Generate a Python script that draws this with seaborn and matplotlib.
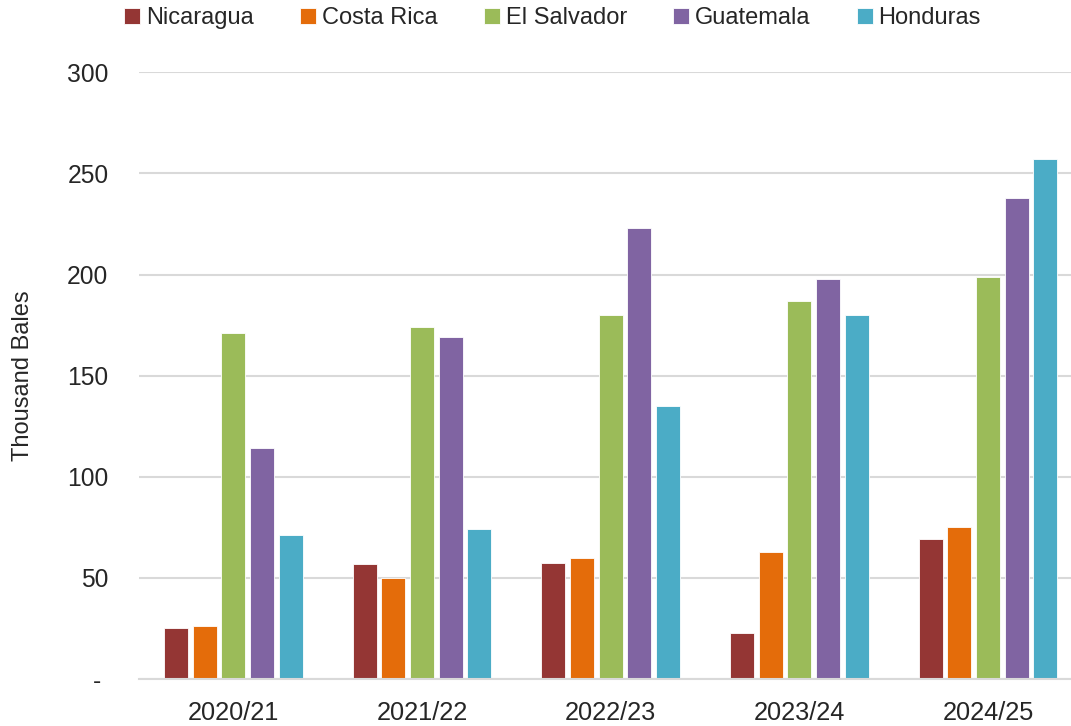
import pandas as pd
import seaborn as sns
from matplotlib import pyplot as plt
from matplotlib.ticker import FuncFormatter

seasons = ["2020/21", "2021/22", "2022/23", "2023/24", "2024/25"]
countries = ["Nicaragua", "Costa Rica", "El Salvador", "Guatemala", "Honduras"]
nicaragua = [25, 57, 57.5, 23, 69]
costa_rica = [26, 50, 60, 63, 75]
el_salvador = [171, 174, 180, 187, 199]
guatemala = [114, 169, 223, 198, 238]
honduras = [71, 74, 135, 180, 257]
colors = ["#943634", "#E46C0A", "#9BBB59", "#8064A2", "#4BACC6"]

rows = []
for name, vals in zip(countries, [nicaragua, costa_rica, el_salvador, guatemala, honduras]):
    for s, v in zip(seasons, vals):
        rows.append({"Season": s, "Country": name, "Bales": v})
df = pd.DataFrame(rows)

sns.set_style("white")
plt.rcParams["font.family"] = ["Liberation Sans", "DejaVu Sans"]

fig, ax = plt.subplots(figsize=(10.71, 7.26), dpi=100)
fig.subplots_adjust(left=0.1298, right=1.0, top=0.9004, bottom=0.0647)

sns.barplot(data=df, x="Season", y="Bales", hue="Country", hue_order=countries,
            palette=colors, width=0.76, gap=0.17, edgecolor="white", linewidth=0.6,
            saturation=1, ax=ax, errorbar=None)

ax.set_ylim(0, 300)
ax.set_xlim(-0.5, 4.44)
ax.set_yticks([0, 50, 100, 150, 200, 250, 300])
ax.yaxis.set_major_formatter(FuncFormatter(lambda v, p: "- " if v == 0 else f"{int(v)}"))
ax.yaxis.grid(True, color="#D9D9D9", linewidth=1.5)
ax.set_axisbelow(True)
for sp in ["top", "right", "left"]:
    ax.spines[sp].set_visible(False)
ax.spines["bottom"].set_color("#D9D9D9")
ax.spines["bottom"].set_linewidth(1.5)
ax.tick_params(axis="both", length=0)
ax.tick_params(axis="y", pad=22, labelsize=17.7)
ax.tick_params(axis="x", pad=16, labelsize=18.3)
ax.set_xlabel("")
ax.set_ylabel("Thousand Bales", fontsize=17, labelpad=24)

handles, labels = ax.get_legend_handles_labels()
ax.legend_.remove()
fig.legend(handles, labels, loc="center", bbox_to_anchor=(0.516, 0.975), ncol=5,
           frameon=False, fontsize=17,
           handlelength=0.68, handleheight=0.68, handletextpad=0.25, columnspacing=1.95)

plt.savefig("out.png", dpi=100)
